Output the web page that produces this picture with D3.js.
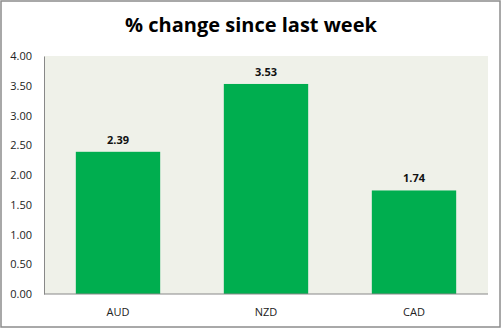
<!DOCTYPE html>
<html>
<head>
<meta charset="utf-8">
<script src="https://cdn.jsdelivr.net/npm/d3@7"></script>
<style>
  html, body { margin: 0; padding: 0; background: #fff; }
  svg { display: block; }
</style>
</head>
<body>
<script>
// Weekly % change per currency
const categories = ["AUD", "NZD", "CAD"];
const values = [2.39, 3.53, 1.74];
const yTicks = [0, 0.5, 1, 1.5, 2, 2.5, 3, 3.5, 4];
const title = "% change since last week";

const W = 502, H = 329;
const plot = { left: 44, top: 56, right: 488, bottom: 294 };
const font = "Open Sans, 'Noto Sans', sans-serif";

const svg = d3.select("body").append("svg")
  .attr("width", W).attr("height", H);

// outer frame
svg.append("rect")
  .attr("x", 1).attr("y", 1).attr("width", W - 3).attr("height", H - 3)
  .attr("fill", "#fff").attr("stroke", "#8c8c8c").attr("stroke-width", 1.5);

// plot background
svg.append("rect")
  .attr("x", plot.left).attr("y", plot.top)
  .attr("width", plot.right - plot.left).attr("height", plot.bottom - plot.top)
  .attr("fill", "#eff1e9");

const x = d3.scaleBand().domain(categories)
  .range([plot.left, plot.right]).paddingInner(0.43).paddingOuter(0.215);
const y = d3.scaleLinear().domain([0, 4]).range([plot.bottom, plot.top]);

// bars
svg.selectAll("rect.bar").data(values).join("rect")
  .attr("class", "bar")
  .attr("x", (d, i) => x(categories[i]))
  .attr("width", x.bandwidth())
  .attr("y", d => y(d))
  .attr("height", d => y(0) - y(d))
  .attr("fill", "#00ae4f");

// value labels
svg.selectAll("text.val").data(values).join("text")
  .attr("class", "val")
  .attr("x", (d, i) => x(categories[i]) + x.bandwidth() / 2)
  .attr("y", d => y(d) - 8)
  .attr("text-anchor", "middle")
  .attr("font-family", font).attr("font-size", 11).attr("font-weight", "bold")
  .attr("fill", "#111")
  .text(d => d.toFixed(2));

// y axis
const yAxis = d3.axisLeft(y).tickValues(yTicks).tickSize(0).tickPadding(12)
  .tickFormat(d3.format(".2f"));
const ya = svg.append("g").attr("transform", `translate(${plot.left},0)`).call(yAxis);
ya.select(".domain").attr("stroke", "#888");
ya.selectAll("text").attr("font-family", font).attr("font-size", 11).attr("fill", "#222");

// x axis
const xAxis = d3.axisBottom(x).tickSize(0).tickPadding(14);
const xa = svg.append("g").attr("transform", `translate(0,${plot.bottom})`).call(xAxis);
xa.select(".domain").attr("stroke", "#888").attr("d", `M${plot.left},0H${plot.right}`);
xa.selectAll("text").attr("font-family", font).attr("font-size", 11).attr("fill", "#222");

// title
svg.append("text")
  .attr("x", W / 2).attr("y", 32)
  .attr("text-anchor", "middle")
  .attr("font-family", font).attr("font-size", 20).attr("font-weight", "bold")
  .attr("fill", "#000")
  .text(title);
</script>
</body>
</html>
